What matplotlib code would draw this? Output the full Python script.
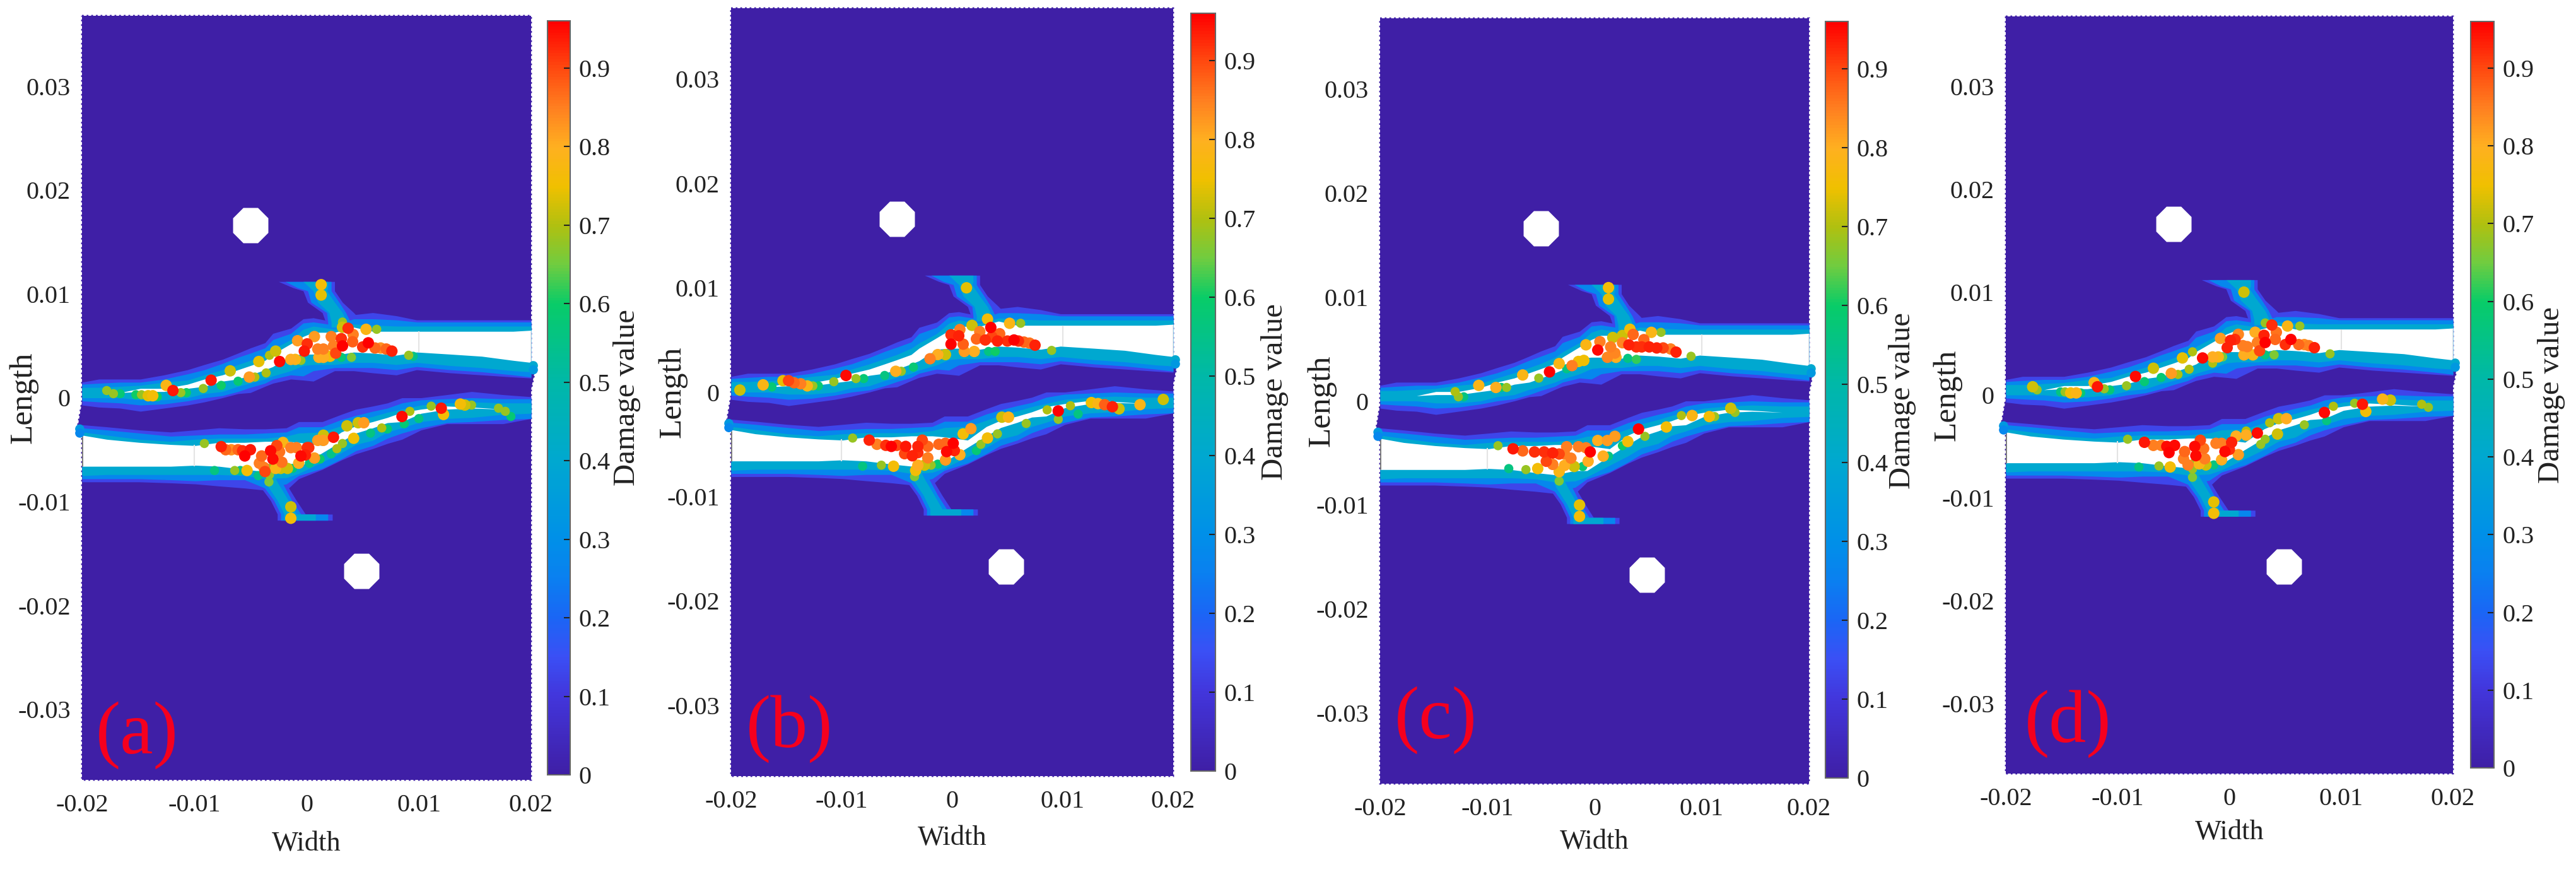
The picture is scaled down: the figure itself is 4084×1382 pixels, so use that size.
import matplotlib
matplotlib.use("Agg")
import matplotlib.pyplot as plt
import numpy as np
from matplotlib.cm import ScalarMappable
from matplotlib.colors import LinearSegmentedColormap, Normalize
from matplotlib.patches import Polygon

# all lengths below are in mm
up_x = [-20, -18.5, -16.6, -14.8, -12.7, -10.6, -9.1, -7.5, -6.1, -5.0, -3.7, -3.0, -1.4, -0.3, 0.6, 2.5, 4.2, 5.9, 8.0, 9.8, 12.8, 15.6, 18.4, 20.0]
up_t1 = [1.5, 1.8, 1.8, 1.8, 2.2, 2.7, 3.2, 3.7, 4.3, 4.8, 5.3, 6.2, 6.7, 7.6, 7.7, 7.3, 8.0, 8.2, 7.9, 7.5, 7.5, 7.5, 7.5, 7.5]
up_t2 = [1.3, 1.4, 1.5, 1.5, 1.8, 2.3, 2.7, 3.3, 3.9, 4.3, 4.8, 5.6, 6.2, 7.2, 7.3, 7.0, 7.6, 7.6, 7.5, 7.3, 7.3, 7.3, 7.3, 7.3]
up_t3 = [1.0, 1.0, 1.1, 1.2, 1.5, 1.7, 2.2, 2.7, 3.2, 3.6, 4.2, 4.7, 5.6, 6.6, 6.9, 6.6, 7.1, 7.0, 6.9, 6.9, 6.9, 6.9, 6.9, 6.9]
up_wt = [0.5, 0.5, 0.5, 0.9, 0.9, 1.3, 1.8, 2.2, 2.7, 3.1, 3.6, 4.2, 5.2, 5.9, 6.3, 6.3, 6.8, 6.4, 6.4, 6.4, 6.4, 6.4, 6.4, 6.5]
up_wb = [0.5, 0.5, 0.5, 0.6, 0.6, 0.9, 1.1, 1.6, 1.8, 2.2, 2.7, 3.0, 4.1, 4.2, 4.2, 4.1, 4.4, 4.3, 4.1, 4.4, 4.2, 4.0, 3.6, 3.4]
up_b3 = [0, 0, 0, -0.2, -0.2, 0, 0.4, 0.6, 1.1, 1.4, 1.8, 2.1, 2.6, 3.1, 3.2, 3.2, 3.4, 3.4, 3.2, 3.4, 3.1, 2.9, 2.6, 2.5]
up_b2 = [-0.3, -0.4, -0.5, -0.7, -0.6, -0.3, 0, 0.2, 0.6, 1.0, 1.4, 1.8, 2.2, 2.1, 2.6, 2.9, 2.9, 2.9, 2.7, 3.0, 2.7, 2.5, 2.2, 2.0]
up_b1 = [-0.7, -0.9, -1.0, -1.3, -1.0, -0.7, -0.4, 0, 0.4, 0.5, 1.1, 1.4, 1.8, 1.7, 1.6, 2.6, 2.6, 2.4, 2.2, 2.7, 2.4, 2.2, 2.0, 1.9]

lo_x = [-20, -17.8, -14.9, -12.1, -9.9, -7.8, -5.5, -3.7, -1.8, -0.7, 1.4, 3.1, 4.4, 5.9, 7.2, 8.5, 10.2, 12.5, 14.7, 17.5, 20.0]
lo_t1 = [-2.6, -2.8, -3.1, -3.3, -3.1, -2.9, -3.0, -3.0, -2.9, -2.3, -2.3, -1.6, -1.1, -0.8, -0.5, 0, 0, 0.3, 0.6, 0.3, 0.1]
lo_t2 = [-2.9, -3.1, -3.4, -3.7, -3.6, -3.5, -3.5, -3.4, -3.3, -2.8, -2.8, -2.1, -1.7, -1.3, -1.0, -0.5, -0.2, -0.1, 0, -0.1, -0.1]
lo_t3 = [-3.3, -3.6, -4.0, -4.2, -4.0, -3.9, -3.9, -3.9, -3.7, -3.4, -3.3, -2.7, -2.2, -1.8, -1.4, -1.1, -0.7, -0.5, -0.4, -0.5, -0.5]
lo_wt = [-3.6, -4.0, -4.3, -4.5, -4.6, -4.3, -4.3, -4.2, -4.2, -4.3, -4.6, -3.3, -2.7, -2.3, -1.9, -1.4, -1.1, -0.8, -0.9, -1.1, -1.1]
lo_wb = [-6.6, -6.6, -6.6, -6.6, -6.5, -6.6, -6.9, -7.1, -6.7, -6.7, -5.3, -4.2, -3.4, -2.9, -2.4, -2.3, -1.5, -1.1, -1.0, -1.1, -1.1]
lo_b3 = [-7.5, -7.4, -7.4, -7.4, -7.4, -7.4, -7.5, -7.8, -7.7, -7.3, -6.2, -5.3, -4.5, -4.1, -3.3, -2.9, -2.3, -2.0, -1.9, -1.6, -1.5]
lo_b2 = [-7.8, -7.8, -7.8, -7.9, -8.0, -7.9, -7.9, -8.7, -8.3, -7.5, -6.8, -5.9, -5.1, -4.6, -3.9, -3.4, -2.9, -2.4, -2.3, -2.1, -2.0]
lo_b1 = [-8.1, -8.1, -8.1, -8.2, -8.3, -8.5, -8.7, -8.9, -8.9, -7.8, -6.9, -6.0, -5.4, -4.9, -4.4, -4.0, -3.1, -2.5, -2.5, -2.5, -2.0]

br_up_y = [11.2, 10.6, 10.3, 9.2, 8.2, 7.3, 6.8]
br_up_l1 = [-2.5, -1.2, -0.3, 0.1, 1.4, 1.7, 1.7]
br_up_r1 = [2.5, 2.5, 2.5, 3.2, 4.2, 5.0, 5.0]
br_up_l2 = [-1.9, -0.8, 0.1, 0.4, 1.8, 1.9, 1.9]
br_up_r2 = [2.2, 2.2, 2.2, 2.9, 3.5, 3.9, 3.9]
br_up_l3 = [-0.3, 0.3, 0.6, 1.0, 2.0, 2.2, 2.2]
br_up_r3 = [1.9, 1.9, 1.8, 2.5, 3.2, 3.6, 3.6]

br_lo_y = [-7.3, -8.3, -9.9, -11.2, -11.21, -11.8]
br_lo_l1 = [-4.8, -4.3, -3.2, -2.6, -2.6, -2.6]
br_lo_r1 = [-2.4, -1.8, -0.9, -0.1, 2.3, 2.3]
br_lo_l2 = [-4.5, -4.0, -2.9, -2.3, -2.3, -2.3]
br_lo_r2 = [-2.6, -2.1, -1.3, -0.5, 1.9, 1.9]
br_lo_l3 = [-4.0, -3.6, -2.6, -2.0, -2.0, -2.0]
br_lo_r3 = [-3.0, -2.5, -1.6, -0.9, 0.8, 0.8]

plate_x = [-20, 20, 20, 20.3, 20.3, 20, 20, -20, -20, -20.35, -20.35, -20]
plate_y = [36.8, 36.8, 3.4, 3.4, 2.4, 0.8, -36.8, -36.8, -3.6, -3.6, -2.6, -0.4]
hole_x = [-5.0, 4.9]
hole_y = [16.6, -16.7]
tip_x = [20.2, 20.2, -20.2, -20.2]
tip_y = [3.1, 2.7, -3.0, -3.4]
tip_v = [0.4, 0.33, 0.33, 0.27]

a_x = [-11.9, -8.5, -2.4, -0.2, 1.3, 1.3, 3.2, 3.2, 3.7, 4.15, 4.1, 5.3, 6.25, 0.7, 2.2, 3.1, 3.2, 2.4, 2.6, 5.5, 5.0, 6.1, 6.6, 7.1, 7.6, 0.06, 1.0, 1.5, 1.1, 1.5, 2.1, 3.1, 4.0, 9.1, 9.5,
       -17.8, -17.2, -16.6, -15.2, -14.7, -14.1, -13.7, -13.3, -12.5, -11.2, -10.7, -9.2, -7.6, -6.8, -6.1, -5.1, -4.6, -4.25, -3.6, -3.3, -2.75, -1.4, -1.0, -0.5, -0.8,
       -9.1, -7.6, -7.2, -6.7, -6.1, -5.7, -5.5, -5.0, -4.0, -4.2, -6.4, -5.3, -5.9, -8.2, -4.3, -3.8, -3.7, -3.3, -3.3, -3.35, -3.2, -2.65, -2.4, -3.0, -2.2, -2.75, -2.3, -1.7, -1.25, -1.4, -0.9, -0.7, -0.5, 0.06, -1.4, -1.4, -2.1,
       0.2, -0.1, 0.7, 1.2, 0.25, 1.0, 1.5, 1.5, 2.4, 2.7, 3.2, 2.2, 3.6, 4.2, 4.6, 5.1, 5.7, 6.7, 7.2, 8.5, 8.7, 9.2, 10.0, 11.1, 12.0, 12.2, 13.7, 14.1, 14.7, 17.1, 17.7, 18.2]
a_y = [0.7, 1.7, 3.5, 4.5, 10.9, 9.9, 7.3, 6.8, 6.7, 6.1, 5.4, 6.6, 6.6, 5.9, 5.9, 5.7, 5.0, 5.0, 4.3, 5.3, 4.9, 4.8, 4.8, 4.7, 4.5, 5.2, 4.7, 4.7, 3.9, 3.9, 4.0, 3.9, 3.9, 4.1, 4.0,
       0.7, 0.4, 0.4, 0.3, 0.3, 0.2, 0.2, 0.1, 1.2, 0.5, 0.5, 0.9, 1.2, 2.6, 1.6, 2.0, 2.0, 3.5, 2.4, 4.1, 4.5, 3.7, 3.7, 3.6, 5.5,
       -4.4, -4.7, -5.0, -5.0, -5.0, -5.1, -5.6, -5.0, -5.6, -6.3, -7.0, -7.0, -7.0, -7.0, -7.5, -6.7, -7.1, -6.8, -7.4, -8.1, -5.1, -4.6, -5.2, -5.9, -6.2, -6.8, -6.8, -6.8, -6.8, -4.8, -4.8, -6.3, -5.6, -4.8, -10.5, -11.6, -4.3,
       -4.8, -5.5, -5.8, -5.9, -6.3, -4.1, -4.1, -3.6, -3.8, -4.9, -4.4, -5.4, -2.7, -3.9, -2.4, -2.4, -3.4, -2.9, -3.0, -1.8, -2.5, -1.3, -2.0, -0.8, -1.0, -1.6, -0.6, -0.7, -0.7, -1.0, -1.3, -1.8]
a_v = [.94, .94, .95, .94, .76, .74, .68, .72, .92, .85, .88, .78, .68, .82, .85, .92, .96, .85, .9, .96, .92, .87, .83, .87, .93, .92, .85, .85, .8, .8, .76, .58, .66, .68, .55,
       .68, .68, .58, .6, .68, .74, .76, .6, .78, .68, .6, .68, .6, .72, .58, .82, .7, .74, .7, .7, .72, .8, .78, .68, .82,
       .68, .93, .87, .83, .87, .92, .96, .94, .87, .85, .68, .76, .55, .56, .55, .85, .9, .68, .68, .66, .95, .9, .86, .95, .86, .78, .72, .72, .58, .85, .85, .8, .95, .92, .72, .76, .78,
       .92, .93, .82, .6, .55, .82, .82, .72, .94, .7, .68, .55, .72, .75, .72, .82, .56, .7, .58, .95, .58, .7, .56, .68, .94, .76, .76, .72, .68, .68, .68, .58]

b_x = [-19.2, -17.1, -16.3, -15.3, -14.8, -14.3, -13.7, -13.1, -12.6, -12.1, -10.7, -9.6, -8.7, -8.0, -6.1, -5.1, -4.6, -3.5, -2.0, -1.3, -0.6, -0.1, 0.6, -0.1, 0.7, 1.0, 1.1, 2.0, 2.2, 2.5, 1.8, 3.2, 3.5, 3.0, 3.6, 4.3, 4.1, 5.0, 5.6, 6.0, 6.5, 7.0, 7.5, 5.2, 6.2, 3.3, 3.9, 9.0, 1.3,
       -9.0, -7.5, -6.8, -6.0, -5.5, -5.0, -4.2, -4.3, -3.6, -3.1, -2.7, -3.1, -2.2, -2.2, -1.2, -0.6, 0.1, -0.5, 0.2, -0.6, 0.7, -3.1, -2.5, -1.9, -1.3, -3.3, -3.4, -5.3, -6.4, -8.1, 1.7, 1.0, 3.2, 2.6, 2.2, 4.1, 5.1, 4.5, 6.7, 8.6, 9.6, 9.6, 10.7, 11.4, 12.6, 13.2, 13.8, 14.5, 15.1, 17.0, 19.1]
b_y = [0.2, 0.7, 0.5, 1.1, 1.1, 0.9, 0.8, 0.6, 0.6, 0.6, 1.0, 1.6, 1.3, 1.3, 1.6, 2.0, 2.0, 2.4, 3.2, 3.6, 3.6, 5.5, 5.4, 4.6, 6.0, 4.6, 3.9, 3.9, 5.1, 5.8, 6.4, 7.0, 6.2, 5.0, 5.3, 5.6, 4.9, 4.9, 5.0, 4.9, 4.8, 4.7, 4.5, 6.6, 6.6, 3.9, 3.9, 4.0, 10.0,
       -4.4, -4.6, -5.0, -5.1, -5.2, -5.1, -5.2, -5.9, -6.1, -5.2, -4.6, -5.8, -5.2, -6.3, -5.0, -4.9, -4.9, -5.7, -5.6, -6.5, -6.0, -7.0, -7.0, -7.0, -6.9, -7.5, -8.1, -7.1, -7.0, -7.1, -3.5, -4.0, -4.4, -5.0, -5.6, -4.0, -2.4, -2.4, -3.0, -1.7, -1.8, -2.6, -1.3, -2.1, -1.0, -1.1, -1.2, -1.4, -1.6, -1.2, -0.7]
b_v = [.72, .78, .58, .74, .9, .87, .85, .78, .68, .58, .68, .95, .68, .58, .56, .8, .68, .58, .85, .8, .72, .92, .93, .96, .85, .88, .82, .8, .87, .85, .72, .76, .96, .92, .9, .87, .93, .92, .96, .92, .87, .86, .93, .78, .68, .56, .6, .68, .74,
       .68, .93, .85, .92, .96, .9, .94, .9, .93, .93, .9, .92, .87, .85, .87, .87, .96, .95, .93, .82, .8, .8, .72, .68, .58, .76, .66, .76, .68, .56, .82, .76, .76, .68, .58, .68, .78, .72, .68, .7, .96, .68, .7, .56, .75, .78, .88, .93, .72, .78, .72]

c_x = [-13.0, -12.7, -12.2, -10.8, -9.2, -8.7, -8.2, -6.7, -5.2, -4.2, -3.3, -2.6, -2.1, -1.5, -1.0, -0.8, 0.3, 0.5, 1.2, 1.9, 1.5, 2.0, 1.7, 2.6, 2.6, 3.3, 3.6, 3.2, 3.9, 4.6, 4.4, 5.1, 5.8, 6.4, 7.1, 7.6, 5.3, 6.2, 3.1, 3.9, 9.0, 1.3, 1.3,
       -9.0, -7.6, -6.7, -5.6, -4.7, -3.9, -3.3, -2.8, -2.6, -2.2, -4.5, -3.9, -2.8, -1.9, -1.1, -1.5, -0.8, -0.4, -0.6, 0.8, 1.3, 0.3, 1.2, 1.9, -3.3, -3.3, -5.3, -6.4, -8.0, 2.6, 3.1, 4.7, 4.1, 6.7, 8.1, 9.1, 10.7, 11.2, 12.7, 13.1, -1.4, -1.4]
c_y = [0.9, 0.4, 0.4, 1.5, 1.3, 1.3, 1.3, 2.5, 2.2, 2.8, 3.6, 3.1, 3.4, 3.8, 3.9, 5.4, 4.9, 5.7, 4.2, 4.6, 5.2, 4.2, 6.1, 5.6, 6.3, 6.9, 6.4, 5.4, 5.2, 5.9, 5.2, 5.2, 5.1, 5.1, 5.0, 4.7, 6.6, 6.6, 4.1, 4.0, 4.3, 9.8, 10.9,
       -4.3, -4.6, -4.8, -4.9, -4.9, -5.0, -5.1, -5.1, -4.4, -5.5, -5.8, -6.1, -6.2, -6.3, -6.3, -4.4, -4.5, -4.9, -5.8, -5.3, -5.3, -3.8, -3.8, -3.4, -6.8, -7.7, -6.5, -6.6, -6.5, -4.3, -3.9, -3.4, -2.7, -2.5, -1.4, -1.4, -1.5, -1.5, -0.7, -1.1, -10.0, -11.1]
c_v = [.7, .68, .56, .78, .8, .58, .68, .78, .68, .96, .78, .56, .85, .75, .75, .78, .95, .85, .84, .84, .85, .8, .72, .84, .72, .76, .87, .93, .92, .87, .92, .93, .93, .9, .85, .93, .78, .68, .56, .62, .68, .74, .76,
       .68, .94, .87, .92, .92, .93, .9, .85, .85, .85, .9, .85, .8, .72, .58, .85, .85, .96, .8, .8, .56, .8, .82, .82, .78, .66, .76, .68, .56, .6, .76, .68, .96, .76, .7, .78, .76, .68, .72, .68, .74, .76]

d_x = [-17.6, -17.2, -15.1, -14.7, -14.2, -13.7, -13.3, -12.1, -11.8, -11.2, -10.7, -9.2, -8.4, -7.6, -6.8, -6.1, -5.2, -4.6, -4.2, -3.6, -3.3, -2.4, -1.5, -1.0, -1.5, -0.6, -0.8, -0.2, 0.1, 0.5, 0.8, 1.2, 1.6, 1.3, 2.1, 2.7, 2.5, 2.3, 3.1, 3.2, 3.2, 3.8, 4.2, 4.1, 5.2, 6.3, 5.0, 5.5, 6.2, 6.7, 7.1, 7.6, 3.2, 4.0, 9.0, 1.3,
       -9.1, -7.6, -6.8, -6.1, -5.6, -4.9, -5.4, -4.0, -4.1, -3.7, -3.1, -3.0, -2.6, -2.3, -2.2, -1.2, -0.7, 0.2, 0, -0.4, -0.7, 0.8, -3.3, -3.3, -3.3, -2.7, -2.1, -1.4, -5.3, -6.3, -8.1, 0.6, 1.5, 2.5, 1.5, 2.8, 3.2, 4.3, 3.6, 5.1, 4.4, 6.7, 8.5, 8.7, 9.3, 11.2, 11.9, 12.2, 13.7, 14.4, 17.2, 17.8, -1.4, -1.4]
d_y = [0.8, 0.5, 0.3, 0.3, 0.2, 0.2, 0.2, 1.2, 0.8, 0.6, 0.5, 0.9, 1.8, 1.3, 2.6, 1.7, 2.1, 2.0, 3.6, 2.5, 4.2, 3.6, 3.7, 3.7, 3.1, 3.7, 5.5, 4.6, 5.3, 5.4, 5.9, 4.8, 4.7, 3.9, 3.9, 4.3, 5.1, 6.1, 5.8, 5.1, 7.0, 6.8, 6.1, 5.4, 6.7, 6.7, 4.9, 5.4, 4.9, 4.9, 4.8, 4.6, 3.9, 3.9, 4.0, 10.0,
       -4.3, -4.6, -4.9, -4.9, -5.0, -4.9, -5.6, -5.5, -6.2, -6.8, -5.0, -5.9, -4.4, -5.2, -6.2, -4.7, -4.7, -4.6, -5.3, -5.5, -6.3, -5.8, -6.7, -7.2, -8.0, -6.7, -6.8, -6.8, -7.0, -6.9, -7.0, -4.0, -3.9, -3.7, -3.5, -4.8, -4.3, -3.8, -2.7, -2.3, -2.3, -2.9, -1.7, -2.5, -1.1, -0.8, -0.9, -1.6, -0.4, -0.5, -0.9, -1.2, -10.4, -11.5]
d_v = [.72, .68, .56, .68, .76, .78, .58, .78, .94, .68, .58, .68, .95, .58, .72, .58, .82, .7, .74, .7, .7, .95, .8, .78, .7, .65, .82, .93, .93, .92, .84, .85, .85, .8, .78, .9, .85, .8, .93, .96, .68, .92, .86, .87, .78, .68, .92, .96, .87, .83, .85, .93, .56, .66, .68, .72,
       .68, .94, .85, .85, .95, .95, .96, .87, .85, .85, .95, .95, .9, .86, .85, .85, .85, .93, .92, .95, .8, .82, .68, .68, .66, .78, .72, .56, .76, .68, .56, .8, .8, .95, .7, .68, .68, .72, .7, .8, .72, .68, .95, .56, .7, .68, .94, .76, .78, .72, .7, .68, .74, .76]

x_ticks = [-0.02, -0.01, 0, 0.01, 0.02]
x_tick_labels = ["-0.02", "-0.01", "0", "0.01", "0.02"]
y_ticks = [-0.03, -0.02, -0.01, 0, 0.01, 0.02, 0.03]
y_tick_labels = ["-0.03", "-0.02", "-0.01", "0", "0.01", "0.02", "0.03"]
cb_ticks = [0, 0.1, 0.2, 0.3, 0.4, 0.5, 0.6, 0.7, 0.8, 0.9]
cb_labels = ["0", "0.1", "0.2", "0.3", "0.4", "0.5", "0.6", "0.7", "0.8", "0.9"]
cmap_values = [0, 0.1, 0.15, 0.2, 0.25, 0.3, 0.4, 0.5, 0.6, 0.65, 0.7, 0.75, 0.8, 0.85, 0.9, 0.96]
cmap_colors = ["#3f1fa6", "#4236dc", "#3a50f5", "#1a66f5", "#0a80f0", "#0090e8", "#00a8d0", "#00b8a8", "#08cc68",
               "#70cc40", "#b0c010", "#f0c000", "#ffb020", "#ff8020", "#ff4a10", "#ff0000"]

W, H = 4084, 1382
VMAX = 0.96
LEVELS = [0.13, 0.27, 0.4]
SERIF = "Liberation Serif"

plt.rcParams["font.family"] = SERIF
cmap = LinearSegmentedColormap.from_list("damage", [(v / VMAX, c) for v, c in zip(cmap_values, cmap_colors)])
norm = Normalize(0, VMAX)


def frame(left, right, top, bottom):
    return [left / W, 1 - bottom / H, (right - left) / W, (bottom - top) / H]


def mm(values):
    return np.asarray(values) / 1000


def draw_field(ax, dots):
    ax.add_patch(Polygon(np.column_stack([mm(plate_x), mm(plate_y)]), closed=True, fc=cmap(0.0), ec=cmap(0.0),
                         lw=2, ls=":", clip_on=False, zorder=1))
    uppers = [(up_t1, up_b1), (up_t2, up_b2), (up_t3, up_b3)]
    lowers = [(lo_t1, lo_b1), (lo_t2, lo_b2), (lo_t3, lo_b3)]
    up_branch = [(br_up_l1, br_up_r1), (br_up_l2, br_up_r2), (br_up_l3, br_up_r3)]
    lo_branch = [(br_lo_l1, br_lo_r1), (br_lo_l2, br_lo_r2), (br_lo_l3, br_lo_r3)]
    for i, level in enumerate(LEVELS):
        color = cmap(norm(level))
        ax.fill_between(mm(up_x), mm(uppers[i][0]), mm(uppers[i][1]), color=color, lw=0, zorder=2 + i)
        ax.fill_between(mm(lo_x), mm(lowers[i][0]), mm(lowers[i][1]), color=color, lw=0, zorder=2 + i)
        ax.fill_betweenx(mm(br_up_y), mm(up_branch[i][0]), mm(up_branch[i][1]), color=color, lw=0, zorder=2 + i)
        ax.fill_betweenx(mm(br_lo_y), mm(lo_branch[i][0]), mm(lo_branch[i][1]), color=color, lw=0, zorder=2 + i)
    ax.fill_between(mm(up_x), mm(up_wt), mm(up_wb), color="white", lw=0, zorder=6)
    ax.fill_between(mm(lo_x), mm(lo_wt), mm(lo_wb), color="white", lw=0, zorder=6)
    # axis box and grid only show through the open cracks
    ax.vlines(mm([-20]), mm([-6.6]), mm([-3.7]), color="#777777", lw=2, zorder=7)
    ax.vlines(mm([-10]), mm([-6.6]), mm([-4.5]), color="#e4e4e4", lw=1.5, zorder=7)
    ax.vlines(mm([10, 20]), mm([4.4, 3.4]), mm([6.4, 6.4]), color="#e4e4e4", lw=1.5, zorder=7)
    ax.scatter(mm(tip_x), mm(tip_y), c=tip_v, cmap=cmap, norm=norm, s=110, lw=0, clip_on=False, zorder=7)
    ax.scatter(mm(hole_x), mm(hole_y), marker="8", s=1900, c="white", lw=0, zorder=8)
    x, y, v = [np.asarray(d) for d in dots]
    order = np.argsort(v)
    sizes = np.where(v[order] < 0.72, 110, 170)
    ax.scatter(mm(x)[order], mm(y)[order], c=v[order], cmap=cmap, norm=norm, s=sizes, lw=0, zorder=9)


# left, right, top, bottom of plate and colorbar, label spots in pixels
panels = [
    ("(a)", (a_x, a_y, a_v), (130, 842, 25, 1236), (868, 904, 33, 1228), (217, 1165), 1337, 994),
    ("(b)", (b_x, b_y, b_v), (1159, 1860, 13, 1230), (1888, 1927, 21, 1222), (1252, 1155), 1328, 2021),
    ("(c)", (c_x, c_y, c_v), (2188, 2868, 29, 1242), (2894, 2930, 34, 1233), (2276, 1141), 1334, 3016),
    ("(d)", (d_x, d_y, d_v), (3180, 3889, 26, 1226), (3917, 3954, 34, 1217), (3279, 1147), 1319, 4045),
]

fig = plt.figure(figsize=(W / 100, H / 100), dpi=100, facecolor="white")
for tag, dots, box, cbox, tag_pos, width_y, damage_x in panels:
    ax = fig.add_axes(frame(*box))
    ax.set_xlim(-0.02, 0.02)
    ax.set_ylim(-0.0368, 0.0368)
    ax.patch.set_visible(False)
    for spine in ax.spines.values():
        spine.set_visible(False)
    draw_field(ax, dots)
    ax.set_xticks(x_ticks, x_tick_labels)
    ax.set_yticks(y_ticks, y_tick_labels)
    ax.tick_params(length=0, labelsize=29, colors="#222222")
    ax.tick_params(axis="x", pad=16)
    ax.tick_params(axis="y", pad=13)

    cax = fig.add_axes(frame(*cbox))
    cb = fig.colorbar(ScalarMappable(norm=norm, cmap=cmap), cax=cax)
    cb.set_ticks(cb_ticks, labels=cb_labels)
    cb.ax.tick_params(direction="in", length=7, width=1.5, pad=10, labelsize=29, colors="#222222")
    cb.outline.set_edgecolor("#666666")
    cb.outline.set_linewidth(1.5)

    mid_y = (box[2] + box[3]) / 2
    fig.text((box[0] - 93) / W, 1 - mid_y / H, "Length", rotation=90, ha="center", va="center", fontsize=37, color="#222222")
    fig.text((box[0] + box[1]) / 2 / W, 1 - width_y / H, "Width", ha="center", va="center", fontsize=32, color="#222222")
    fig.text(damage_x / W, 1 - mid_y / H, "Damage value", rotation=90, ha="center", va="center", fontsize=35, color="#222222")
    fig.text(tag_pos[0] / W, 1 - tag_pos[1] / H, tag, ha="center", va="center", fontsize=85, color="#f5001e")

fig.savefig("out.png", dpi=100)
